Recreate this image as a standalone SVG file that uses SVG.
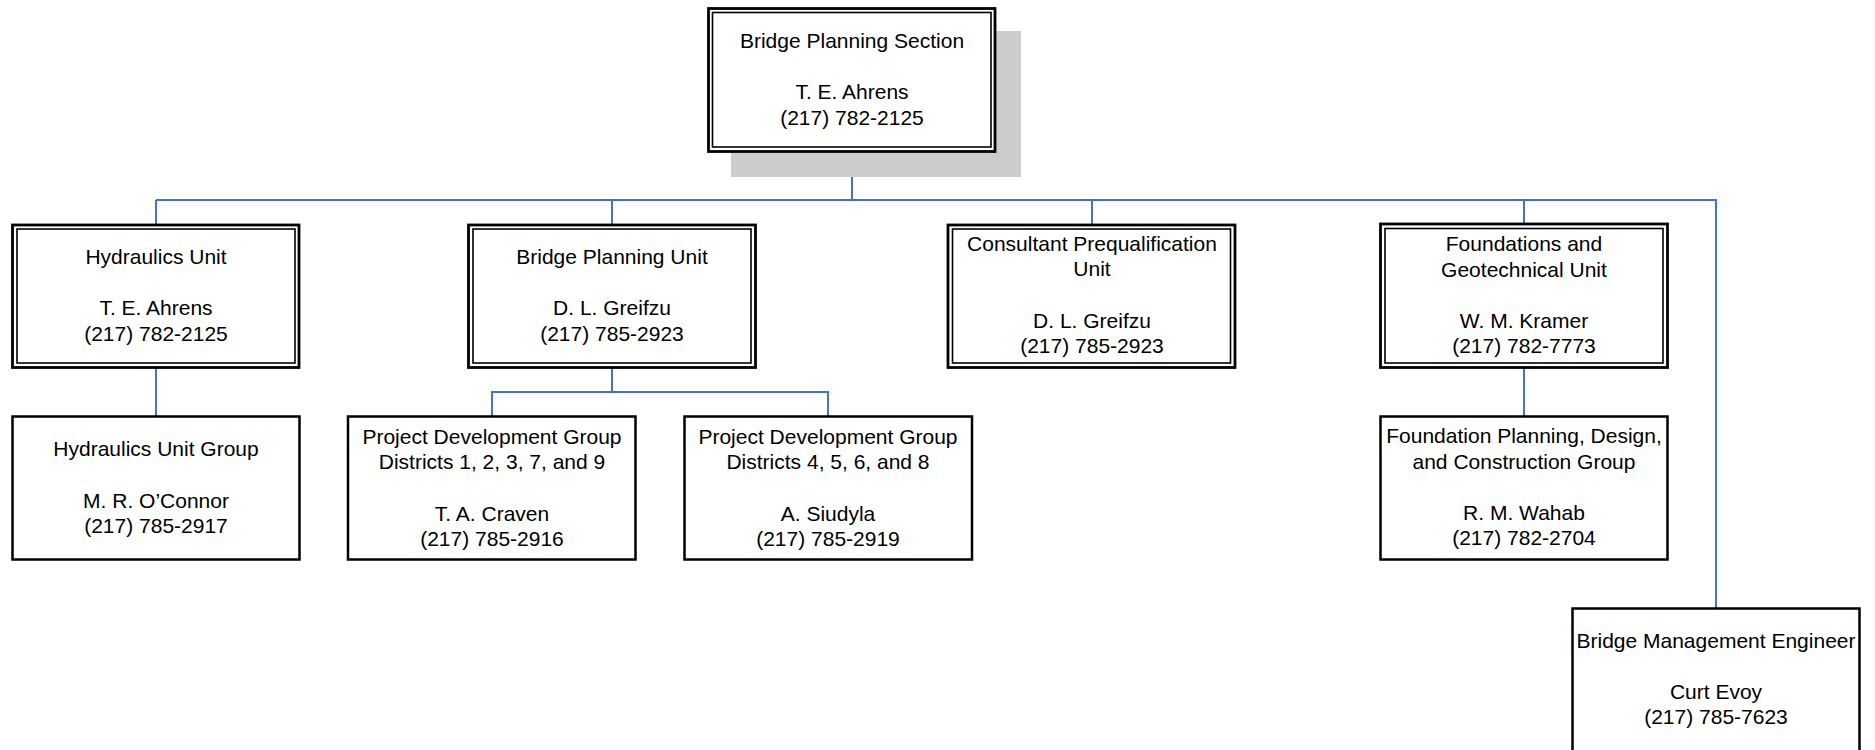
<svg xmlns="http://www.w3.org/2000/svg" width="1875" height="750" viewBox="0 0 1875 750">
<style>
text{font-family:"Liberation Sans",Arial,sans-serif;font-size:21px;fill:#000;text-anchor:middle}
.o{fill:#fff;stroke:#000;stroke-width:2.8}
.i{fill:none;stroke:#000;stroke-width:1.6}
.s{fill:#fff;stroke:#000;stroke-width:2.5}
.c{fill:none;stroke:#4472C4;stroke-width:2}
</style>
<rect width="1875" height="750" fill="#fff"/>
<g id="connectors">
<path class="c" d="M852,153 V200 M156,200 H1716 V608 M156,200 V224 M612,200 V224 M1092,200 V224 M1524,200 V224 M156,368 V416 M612,368 V392 H492 V416 M612,392 H828 V416 M1524,368 V416"/>
</g>
<g id="bridge-planning-section">
<rect x="731" y="31" width="290" height="146" fill="#ccc"/>
<rect class="o" x="708.5" y="8.5" width="286.5" height="143"/>
<rect class="i" x="712.5" y="12.5" width="278.5" height="134.5"/>
<text x="852" y="48">Bridge Planning Section</text>
<text x="852" y="99">T. E. Ahrens</text>
<text x="852" y="124.5">(217) 782-2125</text>
</g>
<g id="hydraulics-unit">
<rect class="o" x="12.5" y="225" width="286.5" height="142.5"/>
<rect class="i" x="17" y="229" width="278" height="134"/>
<text x="156" y="264">Hydraulics Unit</text>
<text x="156" y="315">T. E. Ahrens</text>
<text x="156" y="340.5">(217) 782-2125</text>
</g>
<g id="hydraulics-unit-group">
<rect class="s" x="12.5" y="416.5" width="287" height="143"/>
<text x="156" y="456">Hydraulics Unit Group</text>
<text x="156" y="507.5">M. R. O’Connor</text>
<text x="156" y="533">(217) 785-2917</text>
</g>
<g id="bridge-planning-unit">
<rect class="o" x="468.5" y="225" width="287" height="142.5"/>
<rect class="i" x="473" y="229" width="278" height="134"/>
<text x="612" y="264">Bridge Planning Unit</text>
<text x="612" y="315">D. L. Greifzu</text>
<text x="612" y="340.5">(217) 785-2923</text>
</g>
<g id="project-development-group-1">
<rect class="s" x="348" y="416.5" width="287.5" height="143"/>
<text x="492" y="443.5">Project Development Group</text>
<text x="492" y="469">Districts 1, 2, 3, 7, and 9</text>
<text x="492" y="520.5">T. A. Craven</text>
<text x="492" y="545.5">(217) 785-2916</text>
</g>
<g id="project-development-group-2">
<rect class="s" x="684.5" y="416.5" width="287.5" height="143"/>
<text x="828" y="443.5">Project Development Group</text>
<text x="828" y="469">Districts 4, 5, 6, and 8</text>
<text x="828" y="520.5">A. Siudyla</text>
<text x="828" y="545.5">(217) 785-2919</text>
</g>
<g id="consultant-prequalification-unit">
<rect class="o" x="948" y="225" width="287" height="142.5"/>
<rect class="i" x="952.5" y="229" width="278" height="134"/>
<text x="1092" y="250.5">Consultant Prequalification</text>
<text x="1092" y="276">Unit</text>
<text x="1092" y="327.5">D. L. Greifzu</text>
<text x="1092" y="353">(217) 785-2923</text>
</g>
<g id="foundations-geotechnical-unit">
<rect class="o" x="1380.5" y="224" width="287" height="143.5"/>
<rect class="i" x="1385" y="228.5" width="278" height="134.5"/>
<text x="1524" y="251">Foundations and</text>
<text x="1524" y="277">Geotechnical Unit</text>
<text x="1524" y="327.5">W. M. Kramer</text>
<text x="1524" y="353">(217) 782-7773</text>
</g>
<g id="foundation-planning-group">
<rect class="s" x="1380.5" y="416.5" width="287" height="143"/>
<text x="1524" y="443">Foundation Planning, Design,</text>
<text x="1524" y="468.5">and Construction Group</text>
<text x="1524" y="520">R. M. Wahab</text>
<text x="1524" y="545">(217) 782-2704</text>
</g>
<g id="bridge-management-engineer">
<rect class="s" x="1572.5" y="608.5" width="287" height="160"/>
<text x="1716" y="647.5">Bridge Management Engineer</text>
<text x="1716" y="698.5">Curt Evoy</text>
<text x="1716" y="724">(217) 785-7623</text>
</g>
</svg>
